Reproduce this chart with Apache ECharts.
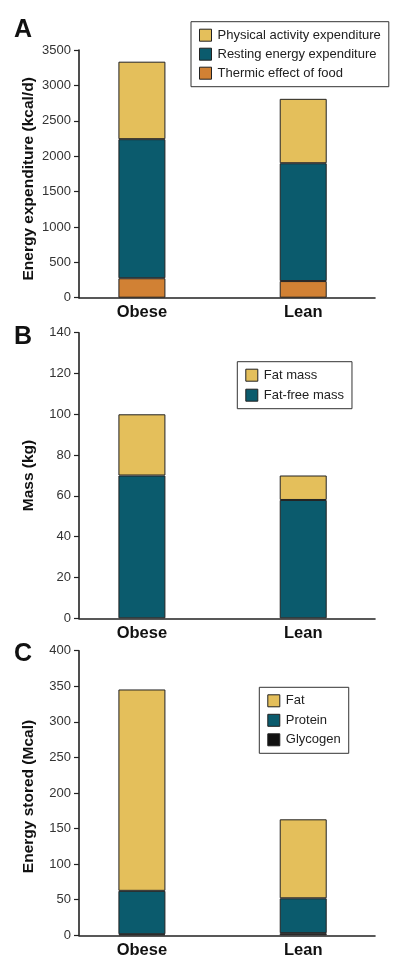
<!DOCTYPE html>
<html>
<head>
<meta charset="utf-8">
<script src="https://cdn.jsdelivr.net/npm/echarts@6/dist/echarts.min.js"></script>
<style>html,body{margin:0;padding:0;background:#fff}#c{width:400px;height:971px}</style>
</head>
<body>
<div id="c"></div>
<script>
// ---- data ----
const categories = ['Obese', 'Lean'];
// Panel A: energy expenditure (kcal/d), stacked bottom -> top
const tefA = [275, 235];        // Thermic effect of food
const reeA = [1965, 1665];      // Resting energy expenditure
const paeA = [1095, 910];       // Physical activity expenditure
// Panel B: mass (kg)
const ffmB = [70, 58];          // Fat-free mass
const fatB = [30, 12];          // Fat mass
// Panel C: energy stored (Mcal)
const glyC = [1.5, 3];          // Glycogen
const proC = [61, 49];          // Protein
const fatC = [283, 111];        // Fat
const ticksA = {max: 3500, step: 500};
const ticksB = {max: 140, step: 20};
const ticksC = {max: 400, step: 50};

const YELLOW = '#E4BF5B', TEAL = '#0B5B6D', ORANGE = '#D18134', BLACK = '#111111';
const FONT = 'Liberation Sans, Arial, Helvetica, sans-serif';
const AX = '#222';

const chart = echarts.init(document.getElementById('c'), null, {renderer: 'canvas'});

const gridL = 79, gridW = 296;
const grids = [
  {left: gridL, width: gridW, top: 50, height: 247.7},
  {left: gridL, width: gridW, top: 332.7, height: 285.6},
  {left: gridL, width: gridW, top: 650.7, height: 284.6}
];

function xAx(i) {
  return {
    type: 'value', gridIndex: i, min: -0.39, max: 1.445,
    splitLine: {show: false}, axisTick: {show: false},
    axisLine: {onZero: false, lineStyle: {color: AX, width: 1.6}},
    axisLabel: {
      customValues: [0, 1], margin: 6.5,
      formatter: v => categories[Math.round(v)] || '',
      fontFamily: FONT, fontWeight: 'bold', fontSize: 16.5, color: '#111'
    }
  };
}
function yAx(i, t, name, pad) {
  return {
    type: 'value', gridIndex: i, min: 0, max: t.max, interval: t.step,
    name: name, nameLocation: 'middle', nameGap: 42, nameMoveOverlap: false,
    nameTextStyle: {fontFamily: FONT, fontWeight: 'bold', fontSize: 15.5, color: '#111', padding: [0, pad, 0, 0]},
    splitLine: {show: false},
    axisLine: {show: true, onZero: false, lineStyle: {color: AX, width: 1.6}},
    axisTick: {show: true, length: 5, lineStyle: {color: AX, width: 1.2}},
    axisLabel: {margin: 8, fontFamily: FONT, fontSize: 13, color: '#333', formatter: v => String(v)}
  };
}
// data rows as [value, categoryIndex]; value column first so it is the stacked dimension
function pts(arr) { return arr.map((v, k) => [v, k]); }
function bar(name, data, color, i, stack) {
  return {
    name: name, type: 'bar', stack: stack, xAxisIndex: i, yAxisIndex: i,
    encode: {x: 1, y: 0},
    barWidth: 47, data: pts(data),
    itemStyle: {color: color, borderColor: '#222', borderWidth: 1},
    emphasis: {disabled: true}, animation: false
  };
}
function legend(names, left, top, gap) {
  return {
    data: names, orient: 'vertical', left: left, top: top,
    padding: [7, 8, 7, 8], itemGap: gap, itemWidth: 12, itemHeight: 12,
    icon: 'rect', selectedMode: false,
    borderColor: '#333', borderWidth: 1,
    itemStyle: {borderColor: '#222', borderWidth: 1},
    textStyle: {fontFamily: FONT, fontSize: 13, color: '#222', padding: [0, 0, 0, 1]}
  };
}
function letter(t, top) {
  return {text: t, left: 14, top: top, padding: 0,
    textStyle: {fontFamily: FONT, fontWeight: 'bold', fontSize: 25, color: '#111'}};
}

chart.setOption({
  animation: false,
  title: [letter('A', 18), letter('B', 325), letter('C', 642)],
  grid: grids,
  xAxis: [xAx(0), xAx(1), xAx(2)],
  yAxis: [
    yAx(0, ticksA, 'Energy expenditure (kcal/d)', 10),
    yAx(1, ticksB, 'Mass (kg)', 0),
    yAx(2, ticksC, 'Energy stored (Mcal)', 7)
  ],
  legend: [
    legend(['Physical activity expenditure', 'Resting energy expenditure', 'Thermic effect of food'], 191, 21.7, 6),
    legend(['Fat mass', 'Fat-free mass'], 237.3, 361.7, 7),
    legend(['Fat', 'Protein', 'Glycogen'], 259.3, 687.3, 6.5)
  ],
  series: [
    bar('Thermic effect of food', tefA, ORANGE, 0, 'a'),
    bar('Resting energy expenditure', reeA, TEAL, 0, 'a'),
    bar('Physical activity expenditure', paeA, YELLOW, 0, 'a'),
    bar('Fat-free mass', ffmB, TEAL, 1, 'b'),
    bar('Fat mass', fatB, YELLOW, 1, 'b'),
    bar('Glycogen', glyC, BLACK, 2, 'c'),
    bar('Protein', proC, TEAL, 2, 'c'),
    bar('Fat', fatC, YELLOW, 2, 'c')
  ]
});
</script>
</body>
</html>
